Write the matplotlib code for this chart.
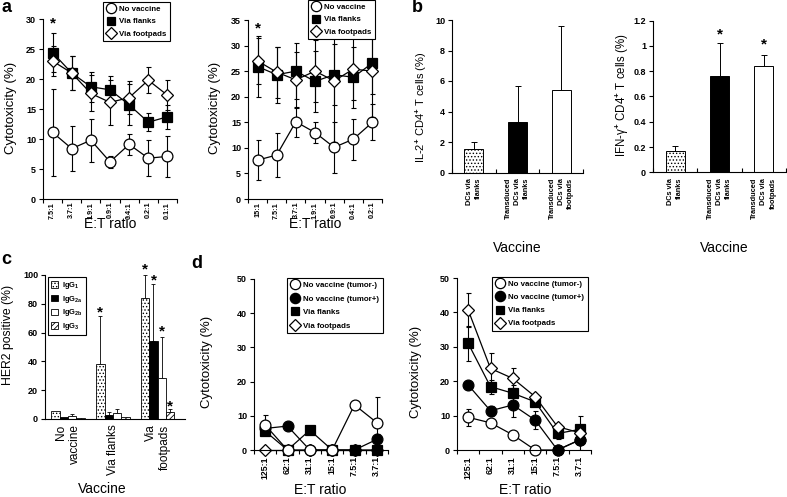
import numpy as np
import matplotlib
matplotlib.use('Agg')
import matplotlib.pyplot as plt
from matplotlib.lines import Line2D
from matplotlib.patches import Patch

plt.rcParams['font.family'] = ['Liberation Sans', 'DejaVu Sans']
plt.rcParams['font.weight'] = 'bold'
plt.rcParams['mathtext.fontset'] = 'custom'
plt.rcParams['mathtext.rm'] = 'Liberation Sans'
plt.rcParams['mathtext.bf'] = 'Liberation Sans:bold'
plt.rcParams['mathtext.it'] = 'Liberation Sans:italic'
plt.rcParams['hatch.linewidth'] = 0.6
plt.rcParams['axes.linewidth'] = 0.8

# ---------------- data ----------------
# panel a (left)
a1_ratios = ["7.5:1", "3.7:1", "1.9:1", "0.9:1", "0.4:1", "0.2:1", "0.1:1"]
a1_none = [11.1, 8.4, 9.8, 6.2, 9.1, 6.8, 7.1]
a1_none_err = [7.3, 3.8, 3.6, 1.0, 1.8, 3.0, 3.4]
a1_flanks = [24.4, 21.0, 18.7, 18.2, 15.7, 12.8, 13.7]
a1_flanks_err = [3.2, 2.8, 2.5, 2.3, 3.4, 1.5, 2.0]
a1_foot = [23.0, 21.0, 17.6, 16.1, 16.9, 19.8, 17.3]
a1_foot_err = [2.5, 2.8, 3.0, 3.8, 2.8, 2.2, 2.5]

# panel a (right)
a2_ratios = ["15:1", "7.5:1", "3.7:1", "1.9:1", "0.9:1", "0.4:1", "0.2:1"]
a2_none = [7.6, 8.6, 15.1, 13.0, 10.1, 11.7, 15.0]
a2_none_err = [3.9, 4.3, 2.9, 2.0, 5.0, 4.0, 3.5]
a2_flanks = [25.9, 24.3, 25.0, 23.0, 24.3, 23.8, 26.6]
a2_flanks_err = [6.0, 5.5, 5.5, 6.0, 6.0, 6.0, 6.0]
a2_foot = [27.0, 24.8, 23.3, 25.0, 23.1, 25.4, 25.0]
a2_foot_err = [4.5, 5.0, 5.5, 6.0, 12.0, 6.0, 9.0]

# panel b
b_cats = ["DCs via\nflanks", "Transduced\nDCs via\nflanks", "Transduced\nDCs via\nfootpads"]
b_il2 = [1.54, 3.29, 5.41]
b_il2_err = [0.45, 2.35, 4.2]
b_ifng = [0.169, 0.762, 0.842]
b_ifng_err = [0.04, 0.26, 0.087]

# panel c
c_groups = ["No\nvaccine", "Via flanks", "Via\nfootpads"]
c_igg1 = [5.5, 38.0, 83.8]
c_igg1_err = [0.0, 33.5, 16.0]
c_igg2a = [1.5, 2.8, 54.0]
c_igg2a_err = [0.0, 2.0, 40.0]
c_igg2b = [2.0, 4.0, 28.7]
c_igg2b_err = [1.5, 2.7, 28.0]
c_igg3 = [0.8, 1.2, 4.6]
c_igg3_err = [0.0, 0.0, 2.0]

# panel d
d_ratios = ["125:1", "62:1", "31:1", "15:1", "7.5:1", "3.7:1"]
d1_neg = [7.3, 0, 0, 0, 13.2, 8.0]
d1_neg_err = [2.9, 0, 0, 0, 0, 7.6]
d1_pos = [6.3, 7.0, 0, 0, 0, 3.1]
d1_pos_err = [0, 0, 0, 0, 0, 1.5]
d1_flanks = [5.5, 0, 5.8, 0, 0, 0]
d1_flanks_err = [0, 0, 0, 0, 0, 0]
d1_foot = [0, 0, 0, 0, 0, 0]
d1_foot_err = [0, 0, 0, 0, 0, 0]

d2_neg = [9.5, 7.9, 4.4, 0, 0, 2.9]
d2_neg_err = [2.5, 0, 0, 0, 0, 2.9]
d2_pos = [18.9, 11.4, 13.1, 8.7, 0, 3.0]
d2_pos_err = [0, 1.5, 3.5, 2.5, 0, 0]
d2_flanks = [31.0, 18.4, 16.5, 14.0, 4.8, 6.0]
d2_flanks_err = [5.0, 2.0, 2.5, 0, 1.5, 4.0]
d2_foot = [40.7, 23.7, 20.8, 15.5, 6.8, 5.0]
d2_foot_err = [4.9, 4.6, 2.9, 0, 0, 0]

# ---------------- figure ----------------
W, H = 787, 497
fig = plt.figure(figsize=(W / 100, H / 100), dpi=100)


def axpx(l, t, r, b):
    return fig.add_axes([l / W, 1 - b / H, (r - l) / W, (b - t) / H])


def ftext(x, y, s, **kw):
    return fig.text(x / W, 1 - y / H, s, **kw)


def base_style(ax, ylim, yticks):
    for s in ['top', 'right']:
        ax.spines[s].set_visible(False)
    ax.set_ylim(*ylim)
    ax.set_yticks(yticks)
    ax.tick_params(axis='y', direction='out', length=3, width=0.8, labelsize=6.5, pad=2)


def cat_axis(ax, labels, tickdir='out', size=5.2, pad=1.5, linespacing=1.2):
    n = len(labels)
    ax.set_xlim(-0.5, n - 0.5)
    ax.set_xticks(np.arange(n))
    ax.set_xticklabels(labels, rotation=90, fontsize=size, fontweight='bold',
                       multialignment='right', linespacing=linespacing)
    ax.tick_params(axis='x', which='major', length=0, pad=pad)
    ax.set_xticks(np.arange(-0.5, n, 1.0), minor=True)
    ax.tick_params(axis='x', which='minor', direction=tickdir, length=3, width=0.8)


MK = {
    'none': dict(marker='o', mfc='white', ms=7.8),
    'pos': dict(marker='o', mfc='black', ms=7.8),
    'flanks': dict(marker='s', mfc='black', ms=6.8),
    'foot': dict(marker='D', mfc='white', ms=6.5),
}


def series(ax, y, err, key, z):
    x = np.arange(len(y))
    y = np.asarray(y, float)
    err = np.asarray(err, float)
    m = err > 0
    if m.any():
        ax.errorbar(x[m], y[m], yerr=err[m], fmt='none', ecolor='black',
                    elinewidth=0.8, capsize=1.8, capthick=0.8, zorder=z)
    ax.plot(x, y, color='black', lw=0.9, mec='black', mew=0.9, zorder=z + 0.5,
            clip_on=False, **MK[key])


def handle(key):
    d = dict(MK[key])
    d['ms'] = d['ms'] * 0.95
    return Line2D([], [], ls='none', mec='black', mew=0.9, **d)


def legend(x, y, keys, labels, size=5.7, spacing=0.55):
    leg = fig.legend([handle(k) for k in keys], labels, loc='upper left',
                     bbox_to_anchor=(x / W, 1 - y / H), frameon=True, fancybox=False,
                     edgecolor='black', framealpha=1, prop=dict(size=size, weight='bold'),
                     handlelength=1.1, handletextpad=0.5, labelspacing=spacing,
                     borderpad=0.45, borderaxespad=0)
    leg.get_frame().set_linewidth(0.8)
    leg.set_zorder(10)
    return leg


# ---- panel a left
ax = axpx(43, 19, 177, 199)
base_style(ax, (0, 30), np.arange(0, 31, 5))
cat_axis(ax, a1_ratios, size=5.2, pad=2)
series(ax, a1_none, a1_none_err, 'none', 2)
series(ax, a1_flanks, a1_flanks_err, 'flanks', 3)
series(ax, a1_foot, a1_foot_err, 'foot', 4)
ax.text(0, 29.2, '*', ha='center', va='center', fontsize=11, fontweight='bold')
ftext(11, 108, 'Cytotoxicity (%)', rotation=90, ha='center', va='center', fontsize=9.5, fontweight='normal')
ftext(110, 224, 'E:T ratio', ha='center', va='center', fontsize=10, fontweight='normal')
legend(103, 2, ['none', 'flanks', 'foot'], ['No vaccine', 'Via flanks', 'Via footpads'], spacing=0.6)

# ---- panel a right
ax = axpx(248, 20, 382, 199)
base_style(ax, (0, 35), np.arange(0, 36, 5))
cat_axis(ax, a2_ratios, size=5.2, pad=2)
series(ax, a2_none, a2_none_err, 'none', 2)
series(ax, a2_flanks, a2_flanks_err, 'flanks', 3)
series(ax, a2_foot, a2_foot_err, 'foot', 4)
ax.text(0, 33.3, '*', ha='center', va='center', fontsize=11, fontweight='bold')
ftext(215, 108, 'Cytotoxicity (%)', rotation=90, ha='center', va='center', fontsize=9.5, fontweight='normal')
ftext(315, 224, 'E:T ratio', ha='center', va='center', fontsize=10, fontweight='normal')
legend(308, 0, ['none', 'flanks', 'foot'], ['No vaccine', 'Via flanks', 'Via footpads'], spacing=0.6)

# ---- panel b
b_styles = [dict(color='white', hatch='.....'), dict(color='black'), dict(color='white')]


def bar_panel(ax, vals, errs):
    x = np.arange(len(vals))
    for i in range(len(vals)):
        ax.bar(x[i], vals[i], width=0.43, edgecolor='black', linewidth=0.7, zorder=2, **b_styles[i])
    ax.errorbar(x, vals, yerr=[np.zeros(len(vals)), errs], fmt='none', ecolor='black',
                elinewidth=0.7, capsize=2.5, capthick=0.7, zorder=1)


ax = axpx(452, 20, 583, 172.5)
base_style(ax, (0, 10), np.arange(0, 11, 2))
cat_axis(ax, b_cats, tickdir='in', size=5.3, pad=4, linespacing=1.45)
bar_panel(ax, b_il2, b_il2_err)
ftext(421, 107, 'IL-2$^{+}$ CD4$^{+}$ T cells (%)', rotation=90, ha='center', va='center', fontsize=8, fontweight='normal')
ftext(517, 248, 'Vaccine', ha='center', va='center', fontsize=10, fontweight='normal')

ax = axpx(653, 20.7, 786, 172.3)
base_style(ax, (0, 1.2), [0, 0.2, 0.4, 0.6, 0.8, 1.0, 1.2])
ax.set_yticklabels(['0', '0.2', '0.4', '0.6', '0.8', '1', '1.2'])
cat_axis(ax, b_cats, tickdir='in', size=5.3, pad=4, linespacing=1.45)
bar_panel(ax, b_ifng, b_ifng_err)
ax.text(1, 1.09, '*', ha='center', va='center', fontsize=11, fontweight='bold')
ax.text(2, 1.01, '*', ha='center', va='center', fontsize=11, fontweight='bold')
ftext(622, 95, 'IFN-γ$^{+}$ CD4$^{+}$ T cells (%)', rotation=90, ha='center', va='center', fontsize=8.3, fontweight='normal')
ftext(724, 248, 'Vaccine', ha='center', va='center', fontsize=10, fontweight='normal')

# ---- panel c
ax = axpx(45, 275, 185, 419)
base_style(ax, (0, 100), np.arange(0, 101, 20))
ax.set_xticks(np.arange(3))
ax.set_xticklabels(c_groups, rotation=90, fontsize=8.5, fontweight='normal', multialignment='right')
ax.tick_params(axis='x', length=0, pad=4)
ax.set_xlim(-0.514, 2.61)
bw = 0.186
c_sets = [(c_igg1, c_igg1_err, dict(color='white', hatch='.....')),
          (c_igg2a, c_igg2a_err, dict(color='black')),
          (c_igg2b, c_igg2b_err, dict(color='white')),
          (c_igg3, c_igg3_err, dict(color='white', hatch='//////'))]
xg = np.arange(3)
for k, (vals, errs, st) in enumerate(c_sets):
    xs = xg + (k - 1.5) * bw
    ax.bar(xs, vals, width=bw, edgecolor='black', linewidth=0.6, zorder=2, **st)
    errs = np.asarray(errs)
    m = errs > 0
    ax.errorbar(xs[m], np.asarray(vals)[m], yerr=[np.zeros(m.sum()), errs[m]], fmt='none',
                ecolor='black', elinewidth=0.6, capsize=1.5, capthick=0.6, zorder=1)
for xs, yv in [(1 - 1.5 * bw, 74), (2 - 1.5 * bw, 104), (2 - 0.5 * bw, 96), (2 + 0.5 * bw, 61), (2 + 1.5 * bw, 9)]:
    ax.text(xs, yv, '*', ha='center', va='center', fontsize=11, fontweight='bold', clip_on=False)
ftext(8, 335, 'HER2 positive (%)', rotation=90, ha='center', va='center', fontsize=8.8, fontweight='normal')
ftext(102, 489, 'Vaccine', ha='center', va='center', fontsize=10, fontweight='normal')
c_labels = [r'$\mathbf{IgG_{1}}$', r'$\mathbf{IgG_{2a}}$', r'$\mathbf{IgG_{2b}}$', r'$\mathbf{IgG_{3}}$']
c_handles = [Patch(facecolor=st.get('color'), edgecolor='black', linewidth=0.6, hatch=st.get('hatch'))
             for _, _, st in c_sets]
leg = fig.legend(c_handles, c_labels, loc='upper left', bbox_to_anchor=(48 / W, 1 - 277 / H),
                 frameon=True, fancybox=False, edgecolor='black', framealpha=1,
                 prop=dict(size=5.5), handlelength=0.9, handleheight=0.9, handletextpad=0.5,
                 labelspacing=0.35, borderpad=0.4, borderaxespad=0)
leg.get_frame().set_linewidth(0.8)

# ---- panel d
d_labels = ['No vaccine (tumor-)', 'No vaccine (tumor+)', 'Via flanks', 'Via footpads']
d_keys = ['none', 'pos', 'flanks', 'foot']

ax = axpx(254, 279, 388, 450)
base_style(ax, (0, 50), np.arange(0, 51, 10))
cat_axis(ax, d_ratios, size=6.3, pad=4.5)
series(ax, d1_foot, d1_foot_err, 'foot', 2)
series(ax, d1_flanks, d1_flanks_err, 'flanks', 3)
series(ax, d1_pos, d1_pos_err, 'pos', 4)
series(ax, d1_neg, d1_neg_err, 'none', 5)
ftext(207, 362, 'Cytotoxicity (%)', rotation=90, ha='center', va='center', fontsize=9.5, fontweight='normal')
ftext(320, 490, 'E:T ratio', ha='center', va='center', fontsize=10, fontweight='normal')
legend(287, 278, d_keys, d_labels, size=5.7, spacing=0.75)

ax = axpx(457, 278, 591, 450)
base_style(ax, (0, 50), np.arange(0, 51, 10))
cat_axis(ax, d_ratios, size=6.3, pad=4.5)
series(ax, d2_neg, d2_neg_err, 'none', 2)
series(ax, d2_pos, d2_pos_err, 'pos', 3)
series(ax, d2_flanks, d2_flanks_err, 'flanks', 4)
series(ax, d2_foot, d2_foot_err, 'foot', 5)
ftext(416, 372, 'Cytotoxicity (%)', rotation=90, ha='center', va='center', fontsize=9.5, fontweight='normal')
ftext(525, 490, 'E:T ratio', ha='center', va='center', fontsize=10, fontweight='normal')
legend(492, 277, d_keys, d_labels, size=5.7, spacing=0.7)

# panel letters
for x, y, s in [(7, 8, 'a'), (417, 8, 'b'), (6, 259, 'c'), (197, 264, 'd')]:
    ftext(x, y, s, ha='center', va='center', fontsize=13, fontweight='bold')

fig.savefig('out.png', dpi=100)
